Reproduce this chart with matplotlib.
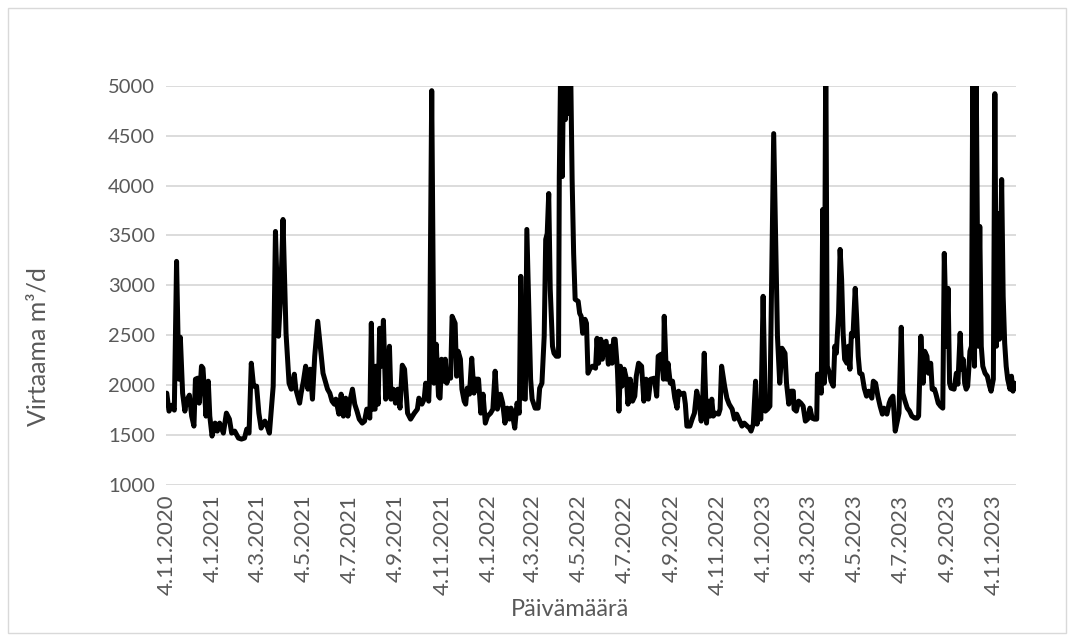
import datetime as dt
import matplotlib
matplotlib.use("Agg")
import matplotlib.pyplot as plt
from matplotlib.patches import Rectangle

plt.rcParams['font.family'] = ['Lato', 'DejaVu Sans']

START = dt.date(2020, 11, 4)

# Day offsets from 4.11.2020 and the daily flow (m3/d) at those days
day_offsets = [
    0, 3, 7, 10, 13, 16, 18, 21, 24, 26, 30, 33, 36, 38, 41, 43, 46, 48, 52, 55,
    57, 60, 64, 67, 70, 75, 79, 83, 86, 90, 95, 99, 103, 106, 109, 112, 115, 119, 122, 125,
    130, 133, 136, 141, 144, 148, 151, 154, 158, 162, 165, 169, 171, 176, 178, 181, 184, 187, 190, 193,
    196, 200, 203, 207, 210, 213, 216, 219, 222, 224, 228, 231, 234, 237, 240, 242, 246, 249, 252, 255,
    259, 262, 265, 269, 271, 273, 276, 277, 280, 282, 284, 287, 290, 293, 295, 297, 300, 303, 306, 309,
    312, 315, 319, 323, 328, 332, 334, 338, 341, 343, 347, 348, 351, 354, 357, 360, 362, 364, 367, 369,
    371, 374, 376, 378, 382, 384, 386, 389, 391, 394, 396, 398, 401, 404, 407, 409, 413, 416, 419, 422,
    425, 429, 432, 435, 438, 442, 445, 448, 451, 454, 456, 459, 461, 464, 467, 469, 472, 475, 477, 482,
    484, 488, 492, 494, 497, 500, 502, 504, 506, 508, 511, 513, 516, 519, 520, 522, 524, 526, 528, 530,
    533, 535, 537, 539, 541, 545, 547, 549, 551, 554, 556, 558, 561, 564, 568, 570, 572, 575, 577, 579,
    582, 585, 588, 590, 592, 594, 597, 599, 601, 603, 606, 609, 611, 614, 617, 620, 622, 625, 629, 632,
    635, 638, 641, 646, 649, 651, 655, 658, 659, 662, 664, 667, 670, 673, 676, 678, 681, 685, 687, 689,
    693, 696, 699, 702, 705, 708, 710, 712, 715, 717, 720, 722, 724, 727, 731, 733, 735, 739, 742, 745,
    749, 752, 755, 758, 762, 765, 769, 772, 774, 777, 780, 782, 784, 787, 790, 793, 796, 799, 804, 809,
    812, 815, 819, 821, 824, 827, 830, 831, 834, 837, 840, 843, 846, 849, 852, 855, 858, 861, 862, 864,
    867, 869, 871, 873, 875, 878, 880, 883, 885, 887, 890, 892, 894, 896, 898, 901, 903, 905, 907, 909,
    912, 914, 916, 918, 921, 924, 927, 930, 934, 936, 939, 942, 945, 948, 950, 954, 957, 959, 962, 965,
    970, 973, 975, 978, 981, 984, 987, 991, 994, 996, 999, 1002, 1004, 1007, 1009, 1012, 1014, 1017, 1019, 1022,
    1025, 1028, 1030, 1033, 1035, 1037, 1039, 1043, 1046, 1048, 1051, 1053, 1055, 1057, 1059, 1061, 1064, 1066, 1068, 1070,
    1072, 1075, 1077, 1079, 1081, 1084, 1087, 1090, 1092, 1095, 1097, 1099, 1101, 1103, 1106, 1108, 1110, 1112, 1114, 1117,
    1119, 1121, 1123, 1125,
]

flow = [
    1920, 1740, 1800, 1750, 3240, 2060, 2480, 1920, 1740, 1840, 1900, 1690, 1590, 2060, 2070, 1820, 2190, 2170, 1690, 2040,
    1690, 1490, 1620, 1540, 1620, 1520, 1720, 1660, 1520, 1540, 1470, 1460, 1470, 1560, 1520, 2220, 1990, 1990, 1720, 1570,
    1640, 1590, 1520, 1990, 3540, 2490, 2920, 3660, 2520, 2020, 1960, 2110, 1960, 1820, 1920, 2040, 2190, 1960, 2160, 1860,
    2290, 2640, 2420, 2120, 2040, 1960, 1920, 1840, 1810, 1860, 1710, 1910, 1690, 1870, 1690, 1820, 1960, 1810, 1740, 1660,
    1620, 1640, 1760, 1670, 2620, 1760, 1760, 2190, 1810, 2570, 2190, 2650, 1860, 2120, 2390, 1860, 1960, 1820, 1960, 1770,
    2200, 2160, 1720, 1660, 1720, 1760, 1870, 1810, 1860, 2020, 1840, 2060, 4950, 2020, 2410, 1890, 1870, 2260, 2040, 2260,
    2020, 2120, 2070, 2690, 2620, 2090, 2340, 2260, 1960, 1840, 1810, 1970, 1910, 2270, 1920, 2060, 2060, 1720, 1910, 1620,
    1690, 1720, 1760, 2140, 1760, 1910, 1820, 1620, 1770, 1660, 1770, 1660, 1570, 1820, 1720, 3090, 1870, 1860, 3560, 2060,
    1860, 1770, 1770, 1970, 2020, 2490, 3460, 3520, 3920, 2960, 2390, 2320, 2290, 2290, 4090, 5300, 4090, 5400, 4660, 5300,
    4720, 5200, 4060, 3320, 2860, 2840, 2720, 2690, 2520, 2660, 2620, 2120, 2170, 2190, 2170, 2470, 2220, 2460, 2260, 2410,
    2440, 2210, 2390, 2220, 2460, 2460, 2160, 1740, 2190, 1990, 2160, 2060, 1810, 2060, 1840, 1890, 2090, 2220, 2190, 1840,
    2060, 1860, 2060, 2070, 1890, 2290, 2310, 2060, 2690, 2060, 2220, 2020, 2040, 1870, 1770, 1940, 1910, 1920, 1810, 1590,
    1590, 1660, 1720, 1940, 1840, 1640, 1860, 2320, 1620, 1840, 1690, 1860, 1690, 1720, 1710, 1760, 2190, 1990, 1870, 1810,
    1760, 1660, 1710, 1660, 1590, 1620, 1590, 1570, 1540, 1610, 2040, 1610, 1710, 1660, 2890, 1740, 1760, 1790, 4520, 2490,
    2020, 2370, 2320, 2020, 1810, 1940, 1940, 1760, 1740, 1840, 1820, 1790, 1640, 1660, 1770, 1670, 1660, 1660, 2110, 2110,
    1920, 3760, 2020, 5400, 2190, 2120, 2040, 1990, 2390, 2320, 2720, 3360, 3060, 2520, 2260, 2220, 2390, 2160, 2520, 2490,
    2970, 2660, 2290, 2120, 2110, 1970, 1890, 1940, 1870, 2040, 2020, 1890, 1790, 1710, 1770, 1710, 1820, 1860, 1890, 1540,
    1720, 2580, 1920, 1840, 1770, 1740, 1690, 1670, 1670, 1690, 2490, 2020, 2340, 2290, 2120, 2220, 1960, 1960, 1910, 1820,
    1790, 1770, 3320, 2390, 2970, 2020, 1970, 1960, 2120, 2010, 2520, 2160, 2260, 2020, 1960, 1990, 2340, 2390, 5500, 2190,
    5400, 2390, 3590, 2390, 2190, 2120, 2090, 1990, 1940, 2060, 4920, 2390, 3720, 2460, 4060, 2890, 2420, 2190, 2060, 1960,
    2090, 1940, 2020, 2010,
]

x_tick_labels = [
    "4.11.2020", "4.1.2021", "4.3.2021", "4.5.2021", "4.7.2021", "4.9.2021",
    "4.11.2021", "4.1.2022", "4.3.2022", "4.5.2022", "4.7.2022", "4.9.2022",
    "4.11.2022", "4.1.2023", "4.3.2023", "4.5.2023", "4.7.2023", "4.9.2023",
    "4.11.2023",
]
y_ticks = [1000, 1500, 2000, 2500, 3000, 3500, 4000, 4500, 5000]

x_label = "Päivämäärä"
y_label = "Virtaama m³/d"

TEXT = "#595959"
GRID = "#d9d9d9"

W, H = 1075, 641
fig = plt.figure(figsize=(W / 100, H / 100), dpi=100)
fig.patch.set_facecolor("white")

# chart-area frame
fig.patches.append(Rectangle((8 / W, 1 - 633 / H), (1066 - 8) / W, (633 - 8) / H,
                             transform=fig.transFigure, fill=False,
                             edgecolor=GRID, linewidth=1.0))

ax = fig.add_axes([166 / W, 1 - 485 / H, (1016 - 166) / W, (485 - 85.7) / H])

dates = [START + dt.timedelta(days=d) for d in day_offsets]
ax.plot(dates, flow, color="black", linewidth=3.6, solid_joinstyle="round",
        solid_capstyle="round", zorder=3)


def parse(s):
    d, m, y = (int(p) for p in s.split("."))
    return dt.date(y, m, d)


tick_dates = [parse(s) for s in x_tick_labels]
ax.set_xticks(tick_dates)
ax.set_xticklabels(x_tick_labels, rotation=90, color=TEXT, fontsize=16)
ax.set_xlim(START - dt.timedelta(days=1), START + dt.timedelta(days=day_offsets[-1]))

ax.set_ylim(1000, 5000)
ax.set_yticks(y_ticks)
ax.set_yticklabels([str(v) for v in y_ticks], color=TEXT, fontsize=14.5)

ax.grid(axis="y", color=GRID, linewidth=1.3, zorder=0)
ax.set_axisbelow(True)
for s in ax.spines.values():
    s.set_visible(False)
ax.tick_params(axis="both", length=0)
ax.tick_params(axis="x", pad=7)
ax.tick_params(axis="y", pad=8)

fig.text(38 / W, 1 - 347 / H, y_label, rotation=90, ha="center", va="center",
         fontsize=18, color=TEXT)
fig.text(570 / W, 1 - 610 / H, x_label, ha="center", va="center",
         fontsize=17, color=TEXT)

fig.savefig("out.png", dpi=100)
